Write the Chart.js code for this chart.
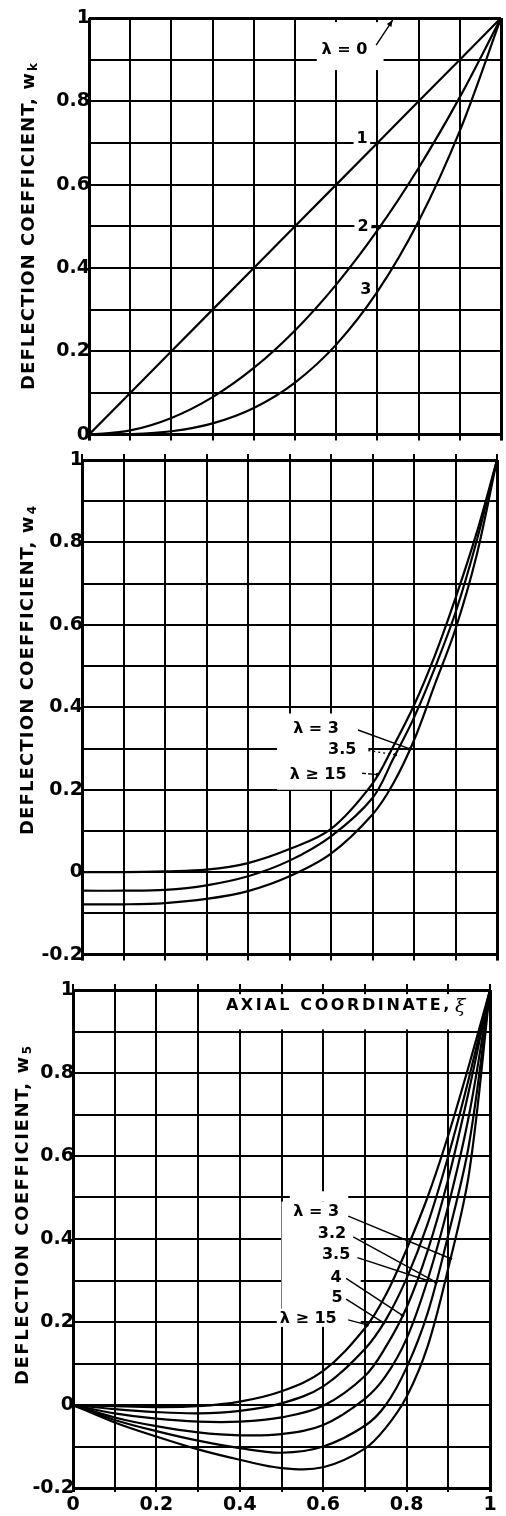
<!DOCTYPE html>
<html>
<head>
<meta charset="utf-8">
<script src="https://cdn.jsdelivr.net/npm/chart.js@4.4.1/dist/chart.umd.min.js"></script>
<style>
html, body { margin: 0; padding: 0; background: #fff; }
body { width: 506px; height: 1516px; position: relative; overflow: hidden; }
.panel { position: absolute; left: 0; width: 506px; }
</style>
</head>
<body>
<div class="panel" style="top:0;height:445px"><canvas id="chartK"></canvas></div>
<div class="panel" style="top:440px;height:525px"><canvas id="chart4"></canvas></div>
<div class="panel" style="top:965px;height:551px"><canvas id="chart5"></canvas></div>
<script>
// axial coordinate xi
const xiK = [0, 0.1, 0.2, 0.3, 0.4, 0.5, 0.6, 0.7, 0.8, 0.9, 1];
const wkLambda0 = [1, 1, 1, 1, 1, 1, 1, 1, 1, 1, 1];
const wkLambda1 = [0, 0.1, 0.2, 0.3, 0.4, 0.5, 0.6, 0.7, 0.8, 0.9, 1];
const wkLambda2 = [0, 0.01, 0.04, 0.09, 0.16, 0.25, 0.36, 0.49, 0.64, 0.81, 1];
const wkLambda3 = [0, 0.001, 0.008, 0.027, 0.064, 0.125, 0.216, 0.343, 0.512, 0.729, 1];

const xi = [0, 0.1, 0.2, 0.3, 0.4, 0.5, 0.6, 0.7, 0.75, 0.8, 0.85, 0.9, 0.95, 1];
const w4Lambda3 = [-0.078, -0.078, -0.075, -0.065, -0.046, -0.01, 0.045, 0.14, 0.215, 0.32, 0.455, 0.59, 0.765, 1];
const w4Lambda35 = [-0.045, -0.045, -0.043, -0.032, -0.01, 0.028, 0.087, 0.18, 0.275, 0.375, 0.495, 0.63, 0.8, 1];
const w4Lambda15 = [0, 0, 0.002, 0.006, 0.022, 0.056, 0.105, 0.215, 0.305, 0.405, 0.525, 0.665, 0.82, 1];

const w5Lambda3 = [0, -0.042, -0.076, -0.107, -0.132, -0.152, -0.15, -0.105, -0.055, 0.02, 0.14, 0.33, 0.56, 1];
const w5Lambda32 = [0, -0.036, -0.063, -0.086, -0.104, -0.115, -0.1, -0.05, 0, 0.09, 0.22, 0.41, 0.63, 1];
const w5Lambda35 = [0, -0.03, -0.051, -0.066, -0.073, -0.07, -0.048, 0.015, 0.07, 0.16, 0.3, 0.48, 0.7, 1];
const w5Lambda4 = [0, -0.02, -0.033, -0.04, -0.04, -0.03, -0.002, 0.07, 0.14, 0.235, 0.37, 0.545, 0.76, 1];
const w5Lambda5 = [0, -0.01, -0.017, -0.02, -0.014, 0.004, 0.045, 0.135, 0.205, 0.305, 0.435, 0.6, 0.79, 1];
const w5Lambda15 = [0, -0.003, -0.005, -0.003, 0.008, 0.033, 0.082, 0.185, 0.265, 0.375, 0.5, 0.65, 0.82, 1];

const xTickLabels = ['0', '0.2', '0.4', '0.6', '0.8', '1'];
const yTickLabelsK = ['0', '0.2', '0.4', '0.6', '0.8', '1'];
const yTickLabels = ['-0.2', '0', '0.2', '0.4', '0.6', '0.8', '1'];

const FONT = '"DejaVu Sans", "Liberation Sans", sans-serif';

function interp(xs, ys, x) {
    for (let i = 1; i < xs.length; i++) {
        if (x <= xs[i]) {
            const t = (x - xs[i - 1]) / (xs[i] - xs[i - 1]);
            return ys[i - 1] + t * (ys[i] - ys[i - 1]);
        }
    }
    return ys[ys.length - 1];
}

function spacedText(ctx, text, x, y, font, width) {
    ctx.font = font;
    const w = ctx.measureText(text).width;
    let sp = 0;
    if (width && 'letterSpacing' in ctx) {
        sp = Math.max(0, (width - w) / text.length);
        ctx.letterSpacing = sp + 'px';
    }
    const total = w + sp * text.length;
    ctx.textAlign = 'left';
    ctx.fillText(text, x - total / 2, y);
    if ('letterSpacing' in ctx) ctx.letterSpacing = '0px';
    return total;
}

const notesPlugin = {
    id: 'notes',
    beforeDatasetsDraw(chart, args, o) {
        const ctx = chart.ctx;
        const sx = chart.scales.x, sy = chart.scales.y;
        const px = v => sx.getPixelForValue(v), py = v => sy.getPixelForValue(v);
        ctx.save();
        ctx.fillStyle = '#fff';
        (o.boxes || []).forEach(b => {
            ctx.fillRect(px(b[0]), py(b[3]), px(b[2]) - px(b[0]), py(b[1]) - py(b[3]));
        });
        ctx.font = 'bold 16px ' + FONT;
        (o.notes || []).forEach(n => {
            const w = ctx.measureText(n.text).width;
            ctx.fillStyle = '#fff';
            ctx.fillRect(px(n.x) - w / 2 - 3, py(n.y) - 9, w + 6, 18);
        });
        ctx.fillStyle = '#000';
        ctx.strokeStyle = '#000';
        ctx.textAlign = 'center';
        ctx.textBaseline = 'middle';
        (o.notes || []).forEach(n => {
            ctx.fillText(n.text, px(n.x), py(n.y) + 1);
            if (!n.from) return;
            const x1 = px(n.from[0]), y1 = py(n.from[1]);
            const x2 = px(n.to[0]), y2 = py(typeof n.to[1] === 'number' ? n.to[1] : interp(o.xs, n.to[1], n.to[0]));
            ctx.lineWidth = 1.4;
            ctx.setLineDash(n.dash || []);
            ctx.beginPath(); ctx.moveTo(x1, y1); ctx.lineTo(x2, y2); ctx.stroke();
            ctx.setLineDash([]);
            if (n.arrow) {
                const a = Math.atan2(y2 - y1, x2 - x1);
                ctx.beginPath();
                ctx.moveTo(x2, y2);
                ctx.lineTo(x2 - 7 * Math.cos(a - 0.4), y2 - 7 * Math.sin(a - 0.4));
                ctx.lineTo(x2 - 7 * Math.cos(a + 0.4), y2 - 7 * Math.sin(a + 0.4));
                ctx.closePath(); ctx.fill();
            } else {
                ctx.beginPath(); ctx.arc(x2, y2, 1.8, 0, Math.PI * 2); ctx.fill();
            }
        });
        if (o.caption) {
            const c = o.caption;
            ctx.textBaseline = 'middle';
            const mainW = spacedText(ctx, c.text, px(c.x) - 6, py(c.y), 'bold 16px ' + FONT, c.width - 14);
            ctx.font = 'italic 19px "DejaVu Serif", serif';
            ctx.textAlign = 'left';
            ctx.fillText(c.symbol, px(c.x) - 6 + mainW / 2 + 3, py(c.y) + 1);
        }
        ctx.restore();
    },
    afterDraw(chart, args, o) {
        const t = o.title;
        if (!t) return;
        const ctx = chart.ctx;
        ctx.save();
        ctx.translate(t.cx, t.cy);
        ctx.rotate(-Math.PI / 2);
        ctx.fillStyle = '#000';
        ctx.textBaseline = 'middle';
        const subFont = 'bold 12px ' + FONT;
        ctx.font = subFont;
        const subW = ctx.measureText(t.sub).width;
        const mainW = spacedText(ctx, t.text, -subW / 2 - 1, 0, 'bold 18px ' + FONT, t.width - subW - 2);
        ctx.font = subFont;
        ctx.textAlign = 'left';
        ctx.fillText(t.sub, -subW / 2 - 1 + mainW / 2 + 1, 5);
        ctx.restore();
    }
};

function lineSet(xs, ys, straight) {
    return {
        data: xs.map((x, i) => ({ x: x, y: ys[i] })),
        borderColor: '#000',
        borderWidth: 2.2,
        pointRadius: 0,
        fill: false,
        tension: straight ? 0 : 0.35,
        xAxisID: 'x',
        yAxisID: 'y'
    };
}

function makePanel(id, p) {
    const edge = (min, max) => c => (c.tick && (Math.abs(c.tick.value - min) < 1e-6 || Math.abs(c.tick.value - max) < 1e-6)) ? 3 : 2;
    const scales = {
        x: {
            type: 'linear', position: 'bottom', min: 0, max: 1,
            afterFit: s => { s.height = p.xHeight; },
            border: { display: false },
            grid: { color: '#000', lineWidth: edge(0, 1), tickLength: p.xTick, drawTicks: true },
            ticks: {
                stepSize: 0.1, display: p.xLabels, autoSkip: false, maxRotation: 0, padding: 2,
                color: '#000', font: { family: FONT, size: 19, weight: 'bold' },
                callback: v => { const k = Math.round(v * 10); return k % 2 === 0 ? xTickLabels[k / 2] : ''; }
            }
        },
        y: {
            type: 'linear', position: 'left', min: p.yMin, max: 1,
            afterFit: s => { s.width = p.yWidth; },
            border: { display: false },
            grid: { color: '#000', lineWidth: edge(p.yMin, 1), drawTicks: false },
            ticks: {
                stepSize: 0.1, autoSkip: false, padding: -1,
                color: '#000', font: { family: FONT, size: 19, weight: 'bold' },
                callback: v => {
                    const k = Math.round(v * 10) - Math.round(p.yMin * 10);
                    return k % 2 === 0 ? p.yLabels[k / 2] : '';
                }
            }
        }
    };
    if (p.topTicks) {
        scales.xt = {
            type: 'linear', position: 'top', min: 0, max: 1,
            afterFit: s => { s.height = 6; },
            border: { display: false },
            grid: { color: '#000', lineWidth: 2, drawOnChartArea: false, tickLength: 6 },
            ticks: { stepSize: 0.1, display: false }
        };
    }
    return new Chart(document.getElementById(id), {
        type: 'line',
        data: { datasets: p.datasets },
        options: {
            responsive: true,
            maintainAspectRatio: false,
            animation: false,
            events: [],
            layout: { padding: p.padding },
            scales: scales,
            plugins: {
                legend: { display: false },
                tooltip: { enabled: false },
                notes: { xs: p.xs, notes: p.notes, boxes: p.boxes, title: p.title, caption: p.caption }
            }
        },
        plugins: [notesPlugin]
    });
}

makePanel('chartK', {
    xs: xiK, yMin: 0, yLabels: yTickLabelsK, yWidth: 89, xHeight: 10, xTick: 6, xLabels: false, topTicks: false,
    padding: { top: 18, right: 5, bottom: 0, left: 0 },
    datasets: [
        lineSet(xiK, wkLambda0, true),
        lineSet(xiK, wkLambda1, true),
        lineSet(xiK, wkLambda2, false),
        lineSet(xiK, wkLambda3, false)
    ],
    boxes: [[0.553, 0.875, 0.715, 0.99]],
    notes: [
        { text: 'λ = 0', x: 0.62, y: 0.926, from: [0.697, 0.935], to: [0.737, 0.995], arrow: true },
        { text: '1', x: 0.663, y: 0.712, from: [0.682, 0.70], to: [0.699, wkLambda1] },
        { text: '2', x: 0.665, y: 0.50, from: [0.685, 0.497], to: [0.705, wkLambda2] },
        { text: '3', x: 0.672, y: 0.35 }
    ],
    title: { text: 'DEFLECTION COEFFICIENT, w', sub: 'k', cx: 29, cy: 226, width: 328 }
});

makePanel('chart4', {
    xs: xi, yMin: -0.2, yLabels: yTickLabels, yWidth: 82, xHeight: 10, xTick: 6, xLabels: false, topTicks: true,
    padding: { top: 14, right: 9, bottom: 0, left: 0 },
    datasets: [
        lineSet(xi, w4Lambda3, false),
        lineSet(xi, w4Lambda35, false),
        lineSet(xi, w4Lambda15, false)
    ],
    boxes: [[0.47, 0.2, 0.69, 0.385]],
    notes: [
        { text: 'λ = 3', x: 0.564, y: 0.35, from: [0.665, 0.345], to: [0.79, w4Lambda3] },
        { text: '3.5', x: 0.627, y: 0.299, from: [0.69, 0.295], to: [0.755, w4Lambda35], dash: [2, 3] },
        { text: 'λ ≥ 15', x: 0.569, y: 0.239, from: [0.675, 0.24], to: [0.712, w4Lambda15], dash: [4, 2] }
    ],
    title: { text: 'DEFLECTION COEFFICIENT, w', sub: '4', cx: 28, cy: 230, width: 330 }
});

makePanel('chart5', {
    xs: xi, yMin: -0.2, yLabels: yTickLabels, yWidth: 73, xHeight: 28, xTick: 4, xLabels: true, topTicks: true,
    padding: { top: 19, right: 16, bottom: 0, left: 0 },
    datasets: [
        lineSet(xi, w5Lambda3, false),
        lineSet(xi, w5Lambda32, false),
        lineSet(xi, w5Lambda35, false),
        lineSet(xi, w5Lambda4, false),
        lineSet(xi, w5Lambda5, false),
        lineSet(xi, w5Lambda15, false)
    ],
    boxes: [[0.5, 0.19, 0.69, 0.49], [0.52, 0.49, 0.66, 0.515], [0.37, 0.905, 0.965, 0.99]],
    notes: [
        { text: 'λ = 3', x: 0.583, y: 0.467, from: [0.66, 0.455], to: [0.905, w5Lambda3] },
        { text: '3.2', x: 0.621, y: 0.414, from: [0.672, 0.405], to: [0.87, w5Lambda32] },
        { text: '3.5', x: 0.631, y: 0.364, from: [0.682, 0.355], to: [0.85, w5Lambda35] },
        { text: '4', x: 0.631, y: 0.308, from: [0.655, 0.305], to: [0.79, w5Lambda4] },
        { text: '5', x: 0.633, y: 0.26, from: [0.655, 0.255], to: [0.745, w5Lambda5] },
        { text: 'λ ≥ 15', x: 0.564, y: 0.21, from: [0.66, 0.205], to: [0.705, w5Lambda15] }
    ],
    caption: { text: 'AXIAL COORDINATE,', symbol: 'ξ', x: 0.652, y: 0.962, width: 240 },
    title: { text: 'DEFLECTION COEFFICIENT, w', sub: '5', cx: 23, cy: 250, width: 340 }
});
</script>
</body>
</html>
